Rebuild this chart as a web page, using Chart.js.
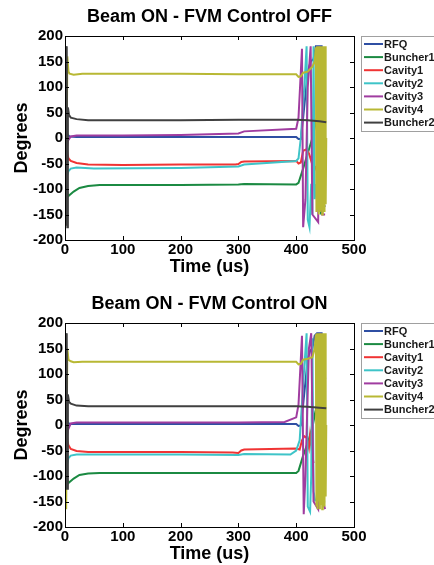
<!DOCTYPE html>
<html>
<head>
<meta charset="utf-8">
<script src="https://cdn.jsdelivr.net/npm/chart.js@4/dist/chart.umd.min.js"></script>
<style>
    body { margin: 0; background: #fff; }
    canvas { display: block; }
</style>
</head>
<body>
<canvas id="chart-off" width="434" height="282"></canvas>
<canvas id="chart-on" width="434" height="283"></canvas>
<script>
// series names, shared by both plots
const seriesNames = ['RFQ', 'Buncher1', 'Cavity1', 'Cavity2', 'Cavity3', 'Cavity4', 'Buncher2'];

// axis ticks
const xTicks = [0, 100, 200, 300, 400, 500];
const yTicks = [-200, -150, -100, -50, 0, 50, 100, 150, 200];

// ---- Beam ON - FVM Control OFF : [time (us), phase (deg)] ----
const rfqOff = [[1,180],[2,-20],[3,10],[5,6],[8,3],[20,2],[100,2],[200,2],[300,2],[400,2],[404,-2],[408,-2],[412,40],[420,130],[425,150],[430,155],[434,180],[440,180],[444,180],[447,-130],[450,-135]];
const buncher1Off = [[1,-130],[3,-100],[5,-115],[8,-112],[15,-105],[25,-98],[40,-94],[60,-92],[100,-92],[200,-92],[300,-91],[310,-90],[400,-91],[404,-88],[412,-60],[420,-30],[428,0],[433,25],[436,40],[440,180],[443,-150],[447,170],[450,90]];
const cavity1Off = [[1,180],[2,0],[4,-30],[6,-40],[10,-45],[20,-49],[40,-52],[100,-53],[200,-52],[295,-52],[300,-51],[305,-47],[310,-46],[400,-45],[404,-50],[408,-48],[412,-25],[418,-22],[422,-30],[426,-45],[428,-28],[432,-62],[434,-55]];
const cavity2Off = [[1,180],[2,-60],[4,-72],[6,-65],[10,-60],[20,-58],[50,-60],[200,-59],[300,-56],[310,-52],[400,-45],[404,-40],[408,0],[414,100],[418,180],[420,-160],[423,-175],[426,-90],[428,-150],[430,180],[432,-120],[435,-90]];
const cavity3Off = [[1,0],[3,-20],[5,-5],[10,3],[20,5],[100,5],[200,6],[300,9],[310,13],[400,18],[404,40],[410,175],[412,-175],[416,-120],[420,100],[425,180],[428,-150],[438,-165],[440,180],[445,-150],[450,-150]];
const cavity4Off = [[1,160],[2,-170],[3,-170],[4,160],[6,130],[8,126],[15,124],[30,126],[100,126],[200,126],[300,125],[400,125],[404,120],[408,121],[412,128],[420,130],[428,140],[432,150],[434,178],[435,-145],[436,180],[437,-140],[438,180],[439,-150],[440,180],[441,-145],[442,180],[443,-140],[444,180],[445,-150],[446,180],[447,-140],[448,180],[449,-145],[450,180],[451,-130],[452,0]];
const buncher2Off = [[1,180],[2,-170],[3,180],[4,-175],[5,60],[7,45],[10,40],[20,37],[40,35],[100,35],[200,35],[300,36],[400,36],[420,35],[440,33],[452,31]];

// ---- Beam ON - FVM Control ON ----
const rfqOn = [[1,180],[2,-20],[3,10],[5,5],[8,2],[20,2],[200,2],[300,2],[400,2],[404,-2],[408,-1],[412,40],[420,130],[424,145],[428,150],[432,175],[436,180],[444,180],[447,-150],[450,-150]];
const buncher1On = [[1,-130],[3,-100],[5,-115],[8,-112],[15,-105],[25,-98],[40,-95],[60,-94],[200,-94],[300,-94],[400,-94],[404,-90],[412,-60],[420,-35],[428,-5],[433,25],[436,40],[440,180],[443,-150],[447,170],[450,90]];
const cavity1On = [[1,180],[2,0],[4,-30],[6,-40],[10,-47],[20,-51],[40,-53],[100,-53],[200,-53],[290,-54],[300,-55],[305,-50],[310,-48],[400,-46],[406,-48],[410,-30],[414,-22],[418,-25],[422,-45],[424,-20],[428,-60],[430,-75]];
const cavity2On = [[1,180],[2,-60],[4,-75],[6,-65],[10,-60],[20,-58],[100,-58],[200,-58],[300,-59],[310,-57],[390,-58],[400,-50],[406,-30],[412,80],[418,180],[420,-160],[424,-170],[426,-100],[428,170],[430,-130],[433,-150]];
const cavity3On = [[1,0],[3,-25],[5,-10],[10,3],[20,5],[100,5],[200,5],[300,5],[380,6],[400,15],[404,40],[410,175],[413,-175],[416,-100],[422,150],[426,180],[430,-150],[438,-165],[442,180],[446,-150],[450,-165]];
const cavity4On = [[1,150],[2,-165],[3,-165],[4,150],[6,128],[10,125],[15,123],[30,124],[100,124],[200,124],[300,124],[400,124],[404,119],[408,120],[412,128],[420,130],[428,133],[432,150],[434,178],[435,-160],[436,180],[437,-165],[438,180],[439,-150],[440,180],[441,-165],[442,180],[443,-155],[444,180],[445,-165],[446,180],[447,-150],[448,180],[449,-160],[450,180],[451,-140],[452,0]];
const buncher2On = [[1,180],[2,-125],[3,180],[4,-125],[5,60],[7,45],[10,42],[20,38],[40,37],[100,37],[200,37],[300,37],[400,37],[420,36],[440,34],[452,33]];

const seriesColors = ['#2f4fa3', '#1b8a42', '#f03434', '#3ec4c8', '#a03ca0', '#b8b834', '#404040'];
const FONT = '"Liberation Sans", Arial, sans-serif';

const toPoints = pairs => pairs.map(([x, y]) => ({ x: x, y: y }));

// frame + inward tick marks, MATLAB style
const framePlugin = {
    id: 'frame',
    afterDatasetsDraw(chart) {
        const { ctx, chartArea: a, scales } = chart;
        ctx.save();
        ctx.strokeStyle = '#000';
        ctx.lineWidth = 1;
        ctx.strokeRect(a.left + 0.5, a.top + 0.5, a.right - a.left, a.bottom - a.top);
        ctx.beginPath();
        yTicks.forEach(v => {
            const y = Math.round(scales.y.getPixelForValue(v)) + 0.5;
            ctx.moveTo(a.left, y); ctx.lineTo(a.left + 4, y);
            ctx.moveTo(a.right, y); ctx.lineTo(a.right - 4, y);
        });
        xTicks.forEach(v => {
            const x = Math.round(scales.x.getPixelForValue(v)) + 0.5;
            ctx.moveTo(x, a.bottom); ctx.lineTo(x, a.bottom - 4);
            ctx.moveTo(x, a.top); ctx.lineTo(x, a.top + 4);
        });
        ctx.stroke();
        ctx.restore();
    }
};

// boxed legend to the right of the axes
const legendPlugin = {
    id: 'boxLegend',
    afterDraw(chart) {
        const { ctx, chartArea: a } = chart;
        const left = a.right + 7;
        const top = a.top;
        ctx.save();
        ctx.fillStyle = '#fff';
        ctx.fillRect(left, top, 90, 95);
        ctx.strokeStyle = '#a0a0a0';
        ctx.lineWidth = 1;
        ctx.strokeRect(left + 0.5, top + 0.5, 90, 95);
        ctx.font = 'bold 11px ' + FONT;
        ctx.textBaseline = 'middle';
        chart.data.datasets.forEach((ds, i) => {
            const y = top + 8 + i * 13.1;
            ctx.strokeStyle = ds.borderColor;
            ctx.lineWidth = 2;
            ctx.beginPath();
            ctx.moveTo(left + 3, y);
            ctx.lineTo(left + 22, y);
            ctx.stroke();
            ctx.fillStyle = '#1a1a1a';
            ctx.fillText(ds.label, left + 23, y + 0.5);
        });
        ctx.restore();
    }
};

function makeChart(canvasId, titleText, seriesData, titlePad, xAxisHeight, xTitlePad) {
    const datasets = seriesData.map((pairs, i) => ({
        label: seriesNames[i],
        data: toPoints(pairs),
        borderColor: seriesColors[i],
        backgroundColor: seriesColors[i],
        borderWidth: 2,
        pointRadius: 0,
        tension: 0,
        order: seriesData.length - i // later series on top, like MATLAB
    }));

    return new Chart(document.getElementById(canvasId), {
        type: 'line',
        data: { datasets: datasets },
        options: {
            responsive: false,
            animation: false,
            layout: { padding: { left: 0, right: 80, top: 0, bottom: 0 } },
            plugins: {
                legend: { display: false },
                tooltip: { enabled: false },
                title: {
                    display: true,
                    text: titleText,
                    fullSize: false,
                    color: '#000',
                    font: { family: FONT, size: 18, weight: 'bold' },
                    padding: titlePad
                }
            },
            scales: {
                x: {
                    type: 'linear',
                    min: 0,
                    max: 500,
                    afterFit: s => { s.height = xAxisHeight; },
                    afterBuildTicks: s => { s.ticks = xTicks.map(v => ({ value: v })); },
                    grid: { display: false, drawTicks: false },
                    border: { display: false },
                    ticks: { color: '#000', padding: 1, maxRotation: 0, font: { family: FONT, size: 15, weight: 'bold' } },
                    title: {
                        display: true,
                        text: 'Time (us)',
                        color: '#000',
                        font: { family: FONT, size: 18, weight: 'bold' },
                        padding: { top: 0, bottom: xTitlePad }
                    }
                },
                y: {
                    type: 'linear',
                    min: -200,
                    max: 200,
                    afterFit: s => { s.width = 65; },
                    afterBuildTicks: s => { s.ticks = yTicks.map(v => ({ value: v })); },
                    grid: { display: false, drawTicks: false },
                    border: { display: false },
                    ticks: { color: '#000', padding: 2, font: { family: FONT, size: 15, weight: 'bold' } },
                    title: {
                        display: true,
                        text: 'Degrees',
                        color: '#000',
                        font: { family: FONT, size: 18, weight: 'bold' },
                        padding: { top: 11, bottom: 0 }
                    }
                }
            }
        },
        plugins: [framePlugin, legendPlugin]
    });
}

makeChart('chart-off', 'Beam ON - FVM Control OFF',
    [rfqOff, buncher1Off, cavity1Off, cavity2Off, cavity3Off, cavity4Off, buncher2Off],
    { top: 6, bottom: 8.4 }, 42, 4);

makeChart('chart-on', 'Beam ON - FVM Control ON',
    [rfqOn, buncher1On, cavity1On, cavity2On, cavity3On, cavity4On, buncher2On],
    { top: 11, bottom: 8.4 }, 38, 0);
</script>
</body>
</html>
